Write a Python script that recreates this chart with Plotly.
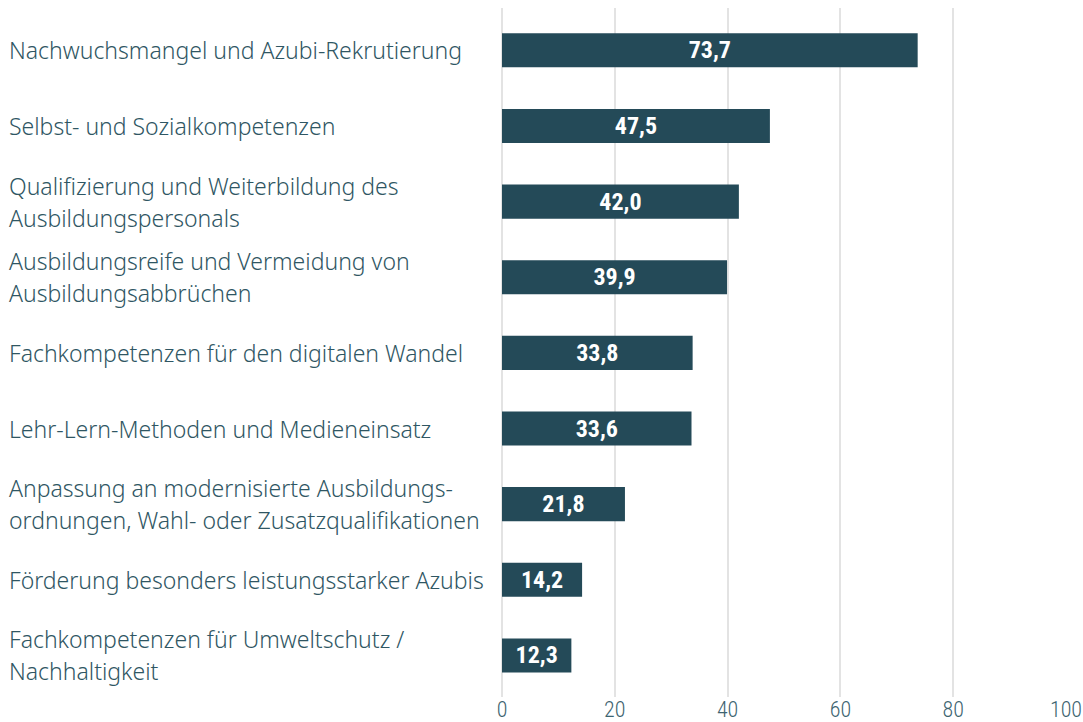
import plotly.graph_objects as go

categories = [
    "Nachwuchsmangel und Azubi-Rekrutierung",
    "Selbst- und Sozialkompetenzen",
    "Qualifizierung und Weiterbildung des<br>Ausbildungspersonals",
    "Ausbildungsreife und Vermeidung von<br>Ausbildungsabbrüchen",
    "Fachkompetenzen für den digitalen Wandel",
    "Lehr-Lern-Methoden und Medieneinsatz",
    "Anpassung an modernisierte Ausbildungs-<br>ordnungen, Wahl- oder Zusatzqualifikationen",
    "Förderung besonders leistungsstarker Azubis",
    "Fachkompetenzen für Umweltschutz /<br>Nachhaltigkeit",
]
values = [73.7, 47.5, 42.0, 39.9, 33.8, 33.6, 21.8, 14.2, 12.3]
tick_vals = [0, 20, 40, 60, 80, 100]

bar_color = "#244a58"
text_color = "#2f5663"
condensed = "Roboto Condensed, Liberation Sans Narrow, DejaVu Sans Condensed, sans-serif"

fig = go.Figure(go.Bar(
    x=values,
    y=list(range(len(categories))),
    orientation="h",
    marker=dict(color=bar_color, line=dict(width=0)),
    text=[f"{v:.1f}".replace(".", ",") for v in values],
    textposition="inside",
    insidetextanchor="middle",
    textangle=0,
    textfont=dict(family=condensed, size=24, color="white", weight="bold"),
    hoverinfo="skip",
))

W_FIG, H_FIG = 1083, 722
L, W = 502, 564

# left-aligned category labels, one annotation per line for wider line spacing
annotations = []
for i, cat in enumerate(categories):
    lines = cat.split("<br>")
    n = len(lines)
    for j, line in enumerate(lines):
        annotations.append(dict(
            x=(7 - L) / W, xref="paper", xanchor="left",
            y=i, yref="y", yanchor="middle",
            yshift=-(j - (n - 1) / 2) * 32,
            text=line, showarrow=False, align="left",
            font=dict(family="Noto Sans, sans-serif", size=23,
                      color=text_color, weight=300),
        ))

fig.update_layout(
    width=W_FIG, height=H_FIG,
    margin=dict(l=L, r=W_FIG - L - W, t=8, b=25),
    paper_bgcolor="white", plot_bgcolor="white",
    bargap=0.55,
    showlegend=False,
    annotations=annotations,
)
fig.update_xaxes(
    range=[0, 100], tickvals=tick_vals, ticktext=[str(t) for t in tick_vals],
    showgrid=True, gridcolor="#e3e3e3", gridwidth=2,
    zeroline=True, zerolinecolor="#e3e3e3", zerolinewidth=2,
    showline=False, ticks="", ticklabeloverflow="allow", ticklabelstandoff=-3,
    automargin=False,
    tickfont=dict(family=condensed, size=22, color="#3d6470", weight=300),
)
fig.update_yaxes(
    range=[8.55, -0.56], showticklabels=False, showgrid=False,
    zeroline=False, showline=False, automargin=False,
)

# drop the default body margin so the figure fills the window without scrollbars
fig.write_html(
    "out.html",
    config={"displayModeBar": False},
    post_script="document.body.style.margin='0';document.body.style.overflow='hidden';",
)
